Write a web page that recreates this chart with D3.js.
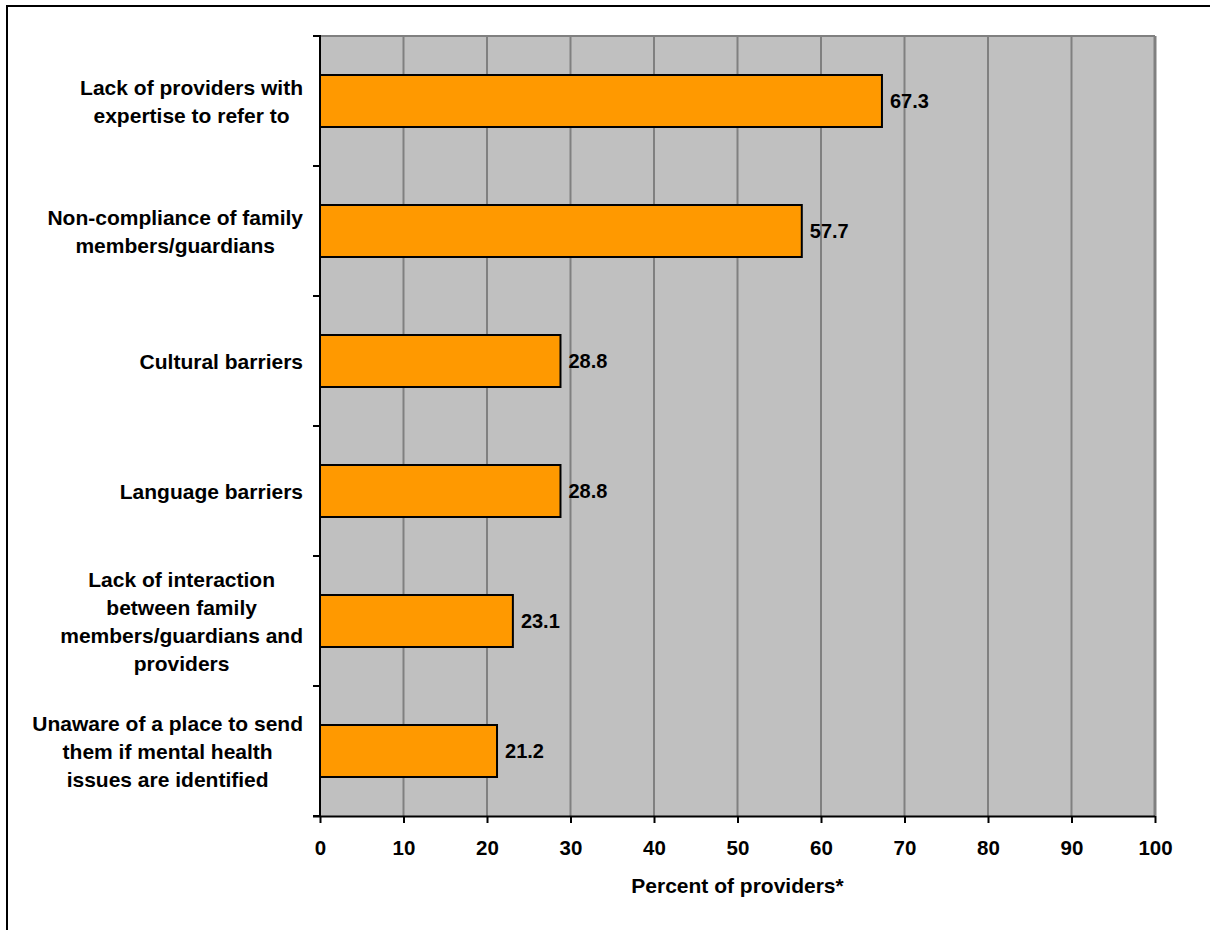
<!DOCTYPE html>
<html>
<head>
<meta charset="utf-8">
<script src="https://cdn.jsdelivr.net/npm/d3@7/dist/d3.min.js"></script>
<style>
  html, body { margin: 0; padding: 0; background: #fff; }
  svg { display: block; }
  text { font-family: "Liberation Sans", Arial, sans-serif; font-weight: bold; fill: #000; }
</style>
</head>
<body>
<svg id="chart" width="1210" height="930"></svg>
<script>
// Barrier categories (each entry is the wrapped lines of one label)
const categories = [
  ["Lack of providers with", "expertise to refer to"],
  ["Non-compliance of family", "members/guardians"],
  ["Cultural barriers"],
  ["Language barriers"],
  ["Lack of interaction", "between family", "members/guardians and", "providers"],
  ["Unaware of a place to send", "them if mental health", "issues are identified"]
];
// Percent of providers reporting each barrier
const values = [67.3, 57.7, 28.8, 28.8, 23.1, 21.2];
// Horizontal axis ticks
const xTicks = [0, 10, 20, 30, 40, 50, 60, 70, 80, 90, 100];
const xTitle = "Percent of providers*";

const keys = categories.map(c => c.join(" "));
const rows = keys.map((k, i) => ({ key: k, lines: categories[i], value: values[i] }));

const svg = d3.select("#chart");
const LABEL_FONT = 21;
const TICK_FONT = 20.5;
const VALUE_FONT = 20;

const plot = { left: 320, right: 1155, top: 36, bottom: 816 };

const x = d3.scaleLinear().domain([0, 100]).range([plot.left, plot.right]);
const y = d3.scaleBand().domain(keys).range([plot.top, plot.bottom])
  .paddingInner(0.6).paddingOuter(0.3);

// outer frame
svg.append("rect")
  .attr("x", 7).attr("y", 6).attr("width", 1300).attr("height", 1000)
  .attr("fill", "none").attr("stroke", "#000").attr("stroke-width", 2);

// plot background
svg.append("rect")
  .attr("x", plot.left).attr("y", plot.top)
  .attr("width", plot.right - plot.left).attr("height", plot.bottom - plot.top)
  .attr("fill", "#C0C0C0");

// top edge of plot area
svg.append("line")
  .attr("x1", plot.left).attr("x2", plot.right)
  .attr("y1", plot.top).attr("y2", plot.top)
  .attr("stroke", "#808080").attr("stroke-width", 2);

// vertical gridlines
svg.append("g").selectAll("line")
  .data(xTicks.filter(t => t > 0))
  .join("line")
  .attr("x1", d => x(d)).attr("x2", d => x(d))
  .attr("y1", plot.top).attr("y2", plot.bottom)
  .attr("stroke", "#808080").attr("stroke-width", d => d === 100 ? 3 : 2);

// bars
svg.append("g").selectAll("rect")
  .data(rows)
  .join("rect")
  .attr("x", x(0))
  .attr("y", d => y(d.key))
  .attr("width", d => x(d.value) - x(0))
  .attr("height", y.bandwidth())
  .attr("fill", "#FF9900")
  .attr("stroke", "#000").attr("stroke-width", 2);

// value labels
svg.append("g").selectAll("text")
  .data(rows)
  .join("text")
  .attr("x", d => x(d.value) + 8)
  .attr("y", d => y(d.key) + y.bandwidth() / 2)
  .attr("dy", "0.36em")
  .style("font-size", VALUE_FONT + "px")
  .text(d => d.value.toFixed(1));

// x axis
const xAxis = svg.append("g")
  .attr("transform", `translate(0,${plot.bottom})`)
  .call(d3.axisBottom(x).tickValues(xTicks).tickSize(7).tickSizeOuter(0).tickFormat(d3.format("d")));
xAxis.select(".domain").attr("stroke", "#000").attr("stroke-width", 2)
  .attr("d", `M${plot.left - 7},0.5H${plot.right}`);
xAxis.selectAll(".tick line").attr("stroke", "#000").attr("stroke-width", 2);
xAxis.selectAll(".tick text")
  .attr("y", 39).attr("dy", 0)
  .style("font-size", TICK_FONT + "px")
  .style("font-family", '"Liberation Sans", Arial, sans-serif')
  .style("font-weight", "bold")
  .attr("fill", "#000");

// y axis line and boundary ticks
svg.append("line")
  .attr("x1", plot.left).attr("x2", plot.left)
  .attr("y1", plot.top - 1).attr("y2", plot.bottom + 1)
  .attr("stroke", "#000").attr("stroke-width", 2);
const bounds = d3.range(keys.length + 1).map(i => plot.top + i * y.step());
svg.append("g").selectAll("line")
  .data(bounds)
  .join("line")
  .attr("x1", plot.left - 7).attr("x2", plot.left)
  .attr("y1", d => d).attr("y2", d => d)
  .attr("stroke", "#000").attr("stroke-width", 2);

// category labels: block right-aligned, lines centred within block
const LINE = 28;
const labelRight = 303;
const labels = svg.append("g");
rows.forEach(r => {
  const g = labels.append("g");
  const texts = g.selectAll("text")
    .data(r.lines)
    .join("text")
    .style("font-size", LABEL_FONT + "px")
    .attr("text-anchor", "middle")
    .text(d => d);
  let maxW = 0;
  texts.each(function () { maxW = Math.max(maxW, this.getComputedTextLength()); });
  const cx = labelRight - maxW / 2;
  const cy = y(r.key) + y.bandwidth() / 2;
  const n = r.lines.length;
  texts
    .attr("x", cx)
    .attr("y", (d, i) => cy + (i - (n - 1) / 2) * LINE)
    .attr("dy", "0.36em");
});

// axis title
svg.append("text")
  .attr("x", (plot.left + plot.right) / 2)
  .attr("y", 893)
  .attr("text-anchor", "middle")
  .style("font-size", LABEL_FONT + "px")
  .text(xTitle);
</script>
</body>
</html>
